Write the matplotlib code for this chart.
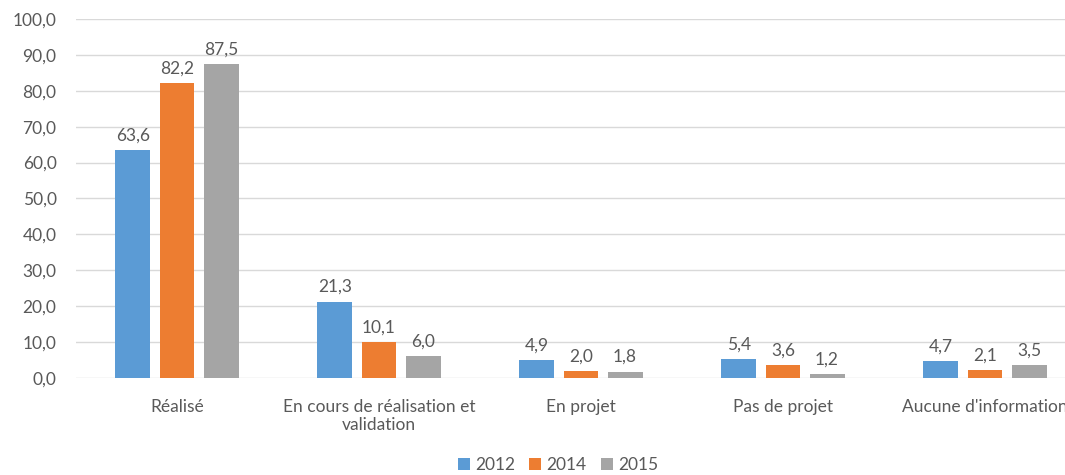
import numpy as np
import matplotlib.pyplot as plt

categories = ["Réalisé", "En cours de réalisation et\nvalidation", "En projet",
              "Pas de projet", "Aucune d'information"]
years = ["2012", "2014", "2015"]
v2012 = [63.6, 21.3, 4.9, 5.4, 4.7]
v2014 = [82.2, 10.1, 2.0, 3.6, 2.1]
v2015 = [87.5, 6.0, 1.8, 1.2, 3.5]

colors = ["#5B9BD5", "#ED7D31", "#A5A5A5"]
text_color = "#595959"
fs = 12.5

plt.rcParams["font.family"] = ["Lato", "DejaVu Sans"]

fig = plt.figure(figsize=(10.65, 4.75), dpi=100)
ax = fig.add_axes([76 / 1065, 97 / 475, 1010 / 1065, 359 / 475])

x = np.arange(len(categories))
width = 0.173
step = 0.218

for i, (vals, year) in enumerate(zip([v2012, v2014, v2015], years)):
    bars = ax.bar(x + (i - 1) * step, vals, width, color=colors[i], label=year, zorder=3)
    for b, v in zip(bars, vals):
        ax.text(b.get_x() + b.get_width() / 2, v + 1.8, f"{v:.1f}".replace(".", ","),
                ha="center", va="bottom", fontsize=fs, color=text_color)

ax.set_xlim(-0.5, len(categories) - 0.5)
ax.set_ylim(0, 100)
ax.set_yticks(np.arange(0, 101, 10))
ax.set_yticklabels([f"{t:.1f}".replace(".", ",") for t in np.arange(0, 101, 10)])
ax.set_xticks(x)
ax.set_xticklabels(categories)
ax.tick_params(axis="both", length=0, colors=text_color, labelsize=fs)
ax.tick_params(axis="x", pad=15)
ax.tick_params(axis="y", pad=14)
ax.yaxis.grid(True, color="#D9D9D9", linewidth=1, zorder=0)
for s in ax.spines.values():
    s.set_visible(False)

fig.legend(loc="center", ncol=3, frameon=False, fontsize=fs,
           bbox_to_anchor=(558 / 1065, 10 / 475), handlelength=0.7, handleheight=0.7,
           handletextpad=0.3, columnspacing=0.8, labelcolor=text_color)

fig.savefig("out.png", dpi=100)
plt.close(fig)
